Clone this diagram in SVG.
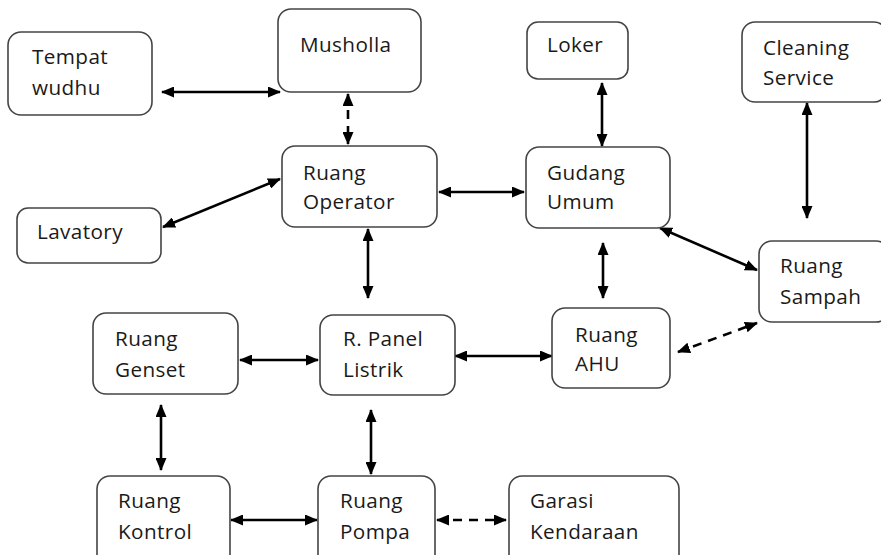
<svg xmlns="http://www.w3.org/2000/svg" width="881" height="555" viewBox="0 0 881 555">
<style>
.box{fill:#fff;stroke:#444;stroke-width:1.6}
.t{font-family:"Open Sans","Liberation Sans",sans-serif;font-size:20.7px;fill:#1a1a1a;letter-spacing:0.4px}
.c{stroke:#000;stroke-width:2.6;fill:none;marker-start:url(#ah);marker-end:url(#ah)}
.d{stroke-dasharray:9,7}
</style>
<defs>
<marker id="ah" viewBox="0 0 13 11" refX="12" refY="5.5" markerWidth="13" markerHeight="11" markerUnits="userSpaceOnUse" orient="auto-start-reverse">
<path d="M0,0 L13,5.5 L0,11 z" fill="#000"/>
</marker>
</defs>
<rect width="881" height="555" fill="#fff"/>
<g id="connectors">
<line class="c" x1="162" y1="92" x2="280" y2="92"/>
<line class="c d" x1="348" y1="94" x2="348" y2="144"/>
<line class="c" x1="163" y1="227" x2="280" y2="179"/>
<line class="c" x1="368" y1="229" x2="368" y2="298"/>
<line class="c" x1="439" y1="192" x2="524" y2="192"/>
<line class="c" x1="602" y1="83" x2="602" y2="146"/>
<line class="c" x1="807" y1="103" x2="807" y2="218"/>
<line class="c" x1="660" y1="228" x2="757" y2="270"/>
<line class="c" x1="603" y1="243" x2="603" y2="298"/>
<line class="c d" x1="678" y1="352" x2="757" y2="323"/>
<line class="c" x1="455" y1="356" x2="552" y2="356"/>
<line class="c" x1="240" y1="360" x2="318" y2="360"/>
<line class="c" x1="161" y1="405" x2="161" y2="470"/>
<line class="c" x1="371" y1="410" x2="371" y2="474"/>
<line class="c" x1="231" y1="520" x2="317" y2="520"/>
<line class="c d" x1="437" y1="520" x2="506" y2="520"/>
</g>
<g id="tempat-wudhu"><rect class="box" x="8" y="32" width="144" height="83" rx="13"/><text class="t" x="32" y="64">Tempat</text><text class="t" x="32" y="95">wudhu</text></g>
<g id="musholla"><rect class="box" x="278" y="9" width="143" height="83" rx="13"/><text class="t" x="300" y="52">Musholla</text></g>
<g id="ruang-operator"><rect class="box" x="282" y="146" width="155" height="81" rx="13"/><text class="t" x="303" y="180">Ruang</text><text class="t" x="303" y="209">Operator</text></g>
<g id="lavatory"><rect class="box" x="17" y="208" width="144" height="55" rx="11"/><text class="t" x="37" y="239">Lavatory</text></g>
<g id="loker"><rect class="box" x="527" y="22" width="101" height="57" rx="11"/><text class="t" x="547" y="52">Loker</text></g>
<g id="gudang-umum"><rect class="box" x="526" y="147" width="144" height="81" rx="13"/><text class="t" x="547" y="180">Gudang</text><text class="t" x="547" y="209">Umum</text></g>
<g id="cleaning-service"><rect class="box" x="742" y="22" width="145" height="80" rx="13"/><text class="t" x="763" y="55">Cleaning</text><text class="t" x="763" y="85">Service</text></g>
<g id="ruang-sampah"><rect class="box" x="759" y="241" width="130" height="81" rx="13"/><text class="t" x="780" y="273">Ruang</text><text class="t" x="780" y="304">Sampah</text></g>
<g id="ruang-ahu"><rect class="box" x="552" y="308" width="118" height="80" rx="13"/><text class="t" x="575" y="342">Ruang</text><text class="t" x="575" y="371">AHU</text></g>
<g id="r-panel-listrik"><rect class="box" x="320" y="315" width="135" height="80" rx="13"/><text class="t" x="343" y="346">R. Panel</text><text class="t" x="343" y="377">Listrik</text></g>
<g id="ruang-genset"><rect class="box" x="93" y="313" width="145" height="81" rx="13"/><text class="t" x="115" y="346">Ruang</text><text class="t" x="115" y="377">Genset</text></g>
<g id="ruang-kontrol"><rect class="box" x="97" y="476" width="133" height="92" rx="13"/><text class="t" x="118" y="508">Ruang</text><text class="t" x="118" y="539">Kontrol</text></g>
<g id="ruang-pompa"><rect class="box" x="318" y="476" width="117" height="92" rx="13"/><text class="t" x="340" y="508">Ruang</text><text class="t" x="340" y="539">Pompa</text></g>
<g id="garasi-kendaraan"><rect class="box" x="509" y="476" width="170" height="92" rx="13"/><text class="t" x="530" y="508">Garasi</text><text class="t" x="530" y="539">Kendaraan</text></g>
</svg>
